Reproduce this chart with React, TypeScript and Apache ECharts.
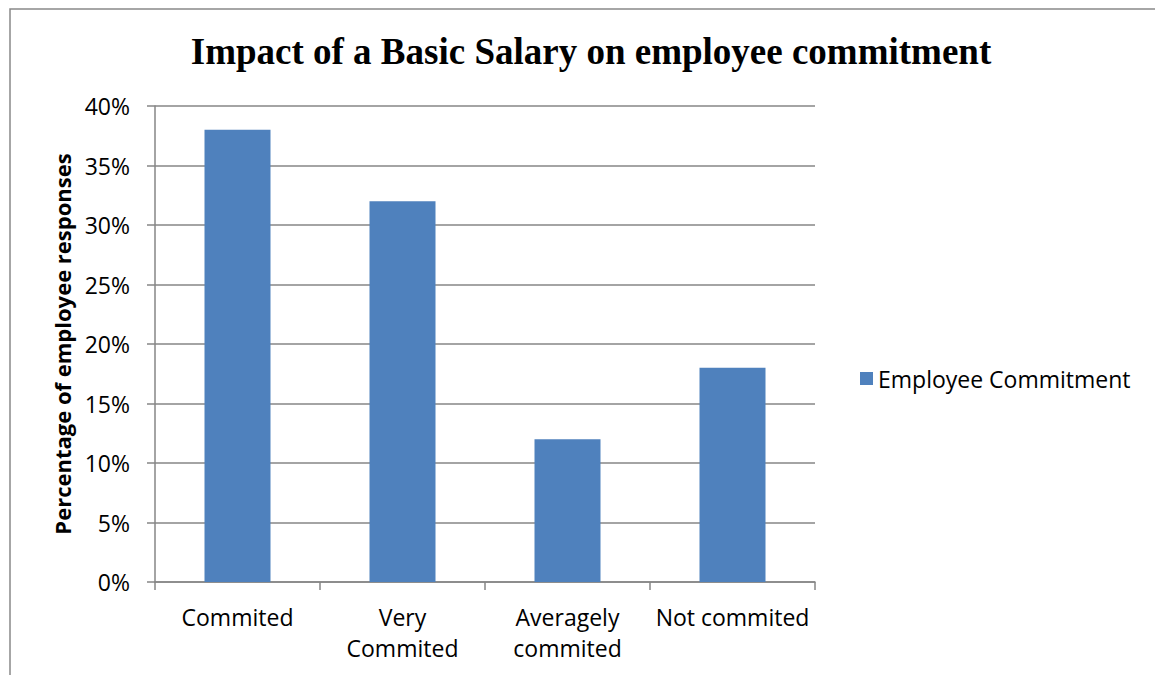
import React, { useEffect, useRef } from "react";
import * as echarts from "echarts";

const categories = ["Commited", "Very\nCommited", "Averagely\ncommited", "Not commited"];
const values = [0.38, 0.32, 0.12, 0.18];
const seriesName = "Employee Commitment";
const titleText = "Impact of a Basic Salary on employee commitment";
const yAxisName = "Percentage of employee responses";

export default function App() {
  const ref = useRef<HTMLDivElement>(null);
  useEffect(() => {
    const chart = echarts.init(ref.current!, null, { renderer: "svg" });
    const axisColor = "#868686";
    const font = "'Open Sans', 'Noto Sans', sans-serif";
    chart.setOption({
      animation: false,
      backgroundColor: "#ffffff",
      title: {
        text: titleText,
        left: 586,
        textAlign: "center",
        top: 28,
        textStyle: {
          fontFamily: "'Liberation Serif', 'DejaVu Serif', serif",
          fontWeight: "bold",
          fontSize: 37,
          color: "#000",
        },
      },
      graphic: [
        {
          type: "rect",
          shape: { x: 10, y: 9, width: 1300, height: 800 },
          style: { fill: "none", stroke: "#898989", lineWidth: 1.5 },
          silent: true,
          z: -1,
        },
      ],
      legend: {
        data: [seriesName],
        left: 855,
        top: 362,
        icon: "rect",
        itemWidth: 13,
        itemHeight: 13,
        textStyle: { fontFamily: font, fontSize: 23, color: "#000" },
      },
      grid: { left: 155, right: 340, top: 106, bottom: 93, containLabel: false },
      xAxis: {
        type: "category",
        data: categories,
        boundaryGap: true,
        axisLine: { show: true, lineStyle: { color: axisColor, width: 1.5 } },
        axisTick: { show: true, length: 8, lineStyle: { color: axisColor, width: 1.5 } },
        axisLabel: {
          fontFamily: font,
          fontSize: 23,
          color: "#000",
          margin: 19,
          lineHeight: 31,
          interval: 0,
        },
      },
      yAxis: {
        type: "value",
        min: 0,
        max: 0.4,
        interval: 0.05,
        name: yAxisName,
        nameLocation: "middle",
        nameGap: 82,
        nameTextStyle: { fontFamily: font, fontSize: 22, fontWeight: "bold", color: "#000" },
        axisLine: { show: true, lineStyle: { color: axisColor, width: 1.5 } },
        axisTick: { show: true, length: 8, lineStyle: { color: axisColor, width: 1.5 } },
        splitLine: { show: true, lineStyle: { color: axisColor, width: 1.5 } },
        axisLabel: {
          fontFamily: font,
          fontSize: 23,
          color: "#000",
          margin: 25,
          formatter: (v: number) => Math.round(v * 100) + "%",
        },
      },
      series: [
        {
          name: seriesName,
          type: "bar",
          data: values,
          barWidth: "40%",
          itemStyle: { color: "#4f81bd" },
        },
      ],
    });
    return () => chart.dispose();
  }, []);
  return (
    <div
      ref={ref}
      style={{ position: "fixed", left: 0, top: 0, width: 1155, height: 675 }}
    />
  );
}
